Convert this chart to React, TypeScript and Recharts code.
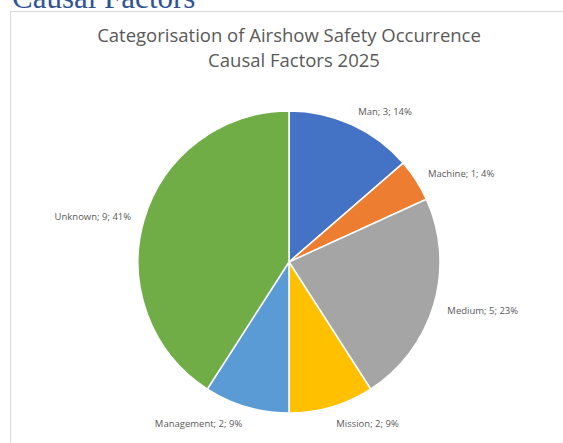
import React from 'react';
import { PieChart, Pie, Cell } from 'recharts';

const categories = ['Man', 'Machine', 'Medium', 'Mission', 'Management', 'Unknown'];
const counts = [3, 1, 5, 2, 2, 9];
const percentLabels = ['14%', '4%', '23%', '9%', '9%', '41%'];
const colors = ['#4472C4', '#ED7D31', '#A5A5A5', '#FFC000', '#5B9BD5', '#70AD47'];
const titleLines = ['Categorisation of Airshow Safety Occurrence', 'Causal Factors 2025'];
const headingText = 'Causal Factors';

const data = categories.map((name, i) => ({ name, value: counts[i], pct: percentLabels[i] }));

const RAD = Math.PI / 180;

function renderLabel(props: any) {
  const { cx, cy, midAngle, outerRadius, index } = props;
  const gap = 13;
  const dx = Math.cos(-midAngle * RAD);
  const dy = Math.sin(-midAngle * RAD);
  const r = outerRadius + gap;
  const x = cx + r * dx + (dx >= 0 ? 1 : -0.5);
  const y = cy + r * dy + dy * 3 + 1.5;
  const d = data[index];
  return (
    <text
      x={x}
      y={y}
      textAnchor={dx >= 0 ? 'start' : 'end'}
      dominantBaseline="central"
      fill="#595959"
      fontSize={9.5}
      fontFamily="'Open Sans', sans-serif"
    >
      {`${d.name}; ${d.value}; ${d.pct}`}
    </text>
  );
}

export default function App() {
  return (
    <div
      style={{
        position: 'absolute',
        left: 0,
        top: 0,
        width: 563,
        height: 443,
        overflow: 'hidden',
        background: '#ffffff',
      }}
    >
      <div
        style={{
          position: 'absolute',
          left: 10,
          top: 11,
          width: 700,
          height: 600,
          border: '1px solid #D9D9D9',
          boxSizing: 'border-box',
        }}
      />
      <svg width={563} height={443} style={{ position: 'absolute', left: 0, top: 0 }}>
        <text
          x={12}
          y={8}
          fill="#2F5496"
          fontSize={31}
          fontFamily="'Liberation Serif', 'Times New Roman', serif"
        >
          {headingText}
        </text>
        <text
          x={289}
          y={42}
          textAnchor="middle"
          fill="#595959"
          fontSize={18.5}
          fontFamily="'Open Sans', sans-serif"
        >
          {titleLines[0]}
        </text>
        <text
          x={294}
          y={67}
          textAnchor="middle"
          fill="#595959"
          fontSize={18.5}
          fontFamily="'Open Sans', sans-serif"
        >
          {titleLines[1]}
        </text>
      </svg>
      <div style={{ position: 'absolute', left: 0, top: 0 }}>
        <PieChart width={563} height={443} margin={{ top: 0, right: 0, bottom: 0, left: 0 }}>
          <Pie
            data={data}
            dataKey="value"
            nameKey="name"
            cx={289}
            cy={262}
            outerRadius={151}
            startAngle={90}
            endAngle={-270}
            stroke="#ffffff"
            strokeWidth={1.5}
            label={renderLabel}
            labelLine={false}
            isAnimationActive={false}
          >
            {data.map((d, i) => (
              <Cell key={d.name} fill={colors[i]} />
            ))}
          </Pie>
        </PieChart>
      </div>
    </div>
  );
}
